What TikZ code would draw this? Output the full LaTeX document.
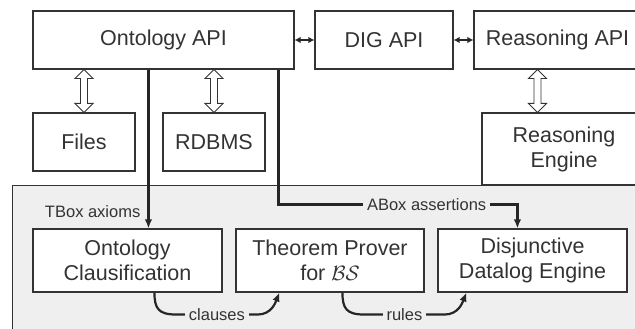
\documentclass[tikz,border=0pt]{standalone}
\usepackage{fontspec}
\setmainfont{Liberation Sans}
\usetikzlibrary{arrows.meta,calc}
\definecolor{ink}{HTML}{333333}
\definecolor{line}{HTML}{262626}
\definecolor{panel}{HTML}{EFEFEF}
\newcommand\hollowarrow[2]{\draw[hol] (#1) -- ++(-9,9) -- ++(5.5,0) -- ($(#2)+(-3.5,-9)$) -- ++(-5.5,0) -- (#2) -- ++(9,-9) -- ++(-5.5,0) -- ($(#1)+(3.5,9)$) -- ++(5.5,0) -- cycle;}
\begin{document}
\begin{tikzpicture}[x=1pt,y=-1pt,
 box/.style={draw=ink, line width=1.1pt, fill=white, text=ink, align=center, inner sep=0pt, font=\fontsize{21.5}{25}\selectfont},
 lab/.style={text=ink, font=\fontsize{16.5}{19}\selectfont, inner xsep=4pt, inner ysep=1pt},
 conn/.style={draw=line, line width=2.2pt},
 tip/.style={-{Latex[length=9pt,width=7.5pt]}},
 hol/.style={draw=ink, line width=0.9pt, fill=white, line join=miter},
 dbl/.style={draw=line, line width=2pt, {Latex[length=6pt,width=6.5pt]}-{Latex[length=6pt,width=6.5pt]}}
]
\useasboundingbox (0,0) rectangle (635,329);
\fill[panel, draw=ink, line width=0.9pt] (12,185) rectangle (660,350);

\node[box, minimum width=261, minimum height=58] (ont) at (163.5,40) {Ontology API};
\node[box, minimum width=138, minimum height=58] (dig) at (384,40) {DIG API};
\node[box, minimum width=167, minimum height=58] (rapi) at (557.5,40) {Reasoning API};
\node[box, minimum width=102, minimum height=58] (files) at (84,142) {Files};
\node[box, minimum width=102, minimum height=58] (rdb) at (214,142) {RDBMS};
\node[box, minimum width=164, minimum height=72] (reng) at (564,149) {Reasoning\\Engine};
\node[box, minimum width=189, minimum height=63] (oc) at (127.5,260.5) {Ontology\\Clausification};
\node[box, minimum width=188, minimum height=63] (tp) at (330,260.5) {Theorem Prover\\for $\mathcal{BS}$};
\node[box, minimum width=189, minimum height=63] (dd) at (532.5,260.5) {Disjunctive\\Datalog Engine};

\draw[dbl] (ont.east) -- (dig.west);
\draw[dbl] (dig.east) -- (rapi.west);

\coordinate (h1t) at (files.north |- ont.south);
\coordinate (h1b) at (files.north);
\coordinate (h2t) at (rdb.north |- ont.south);
\coordinate (h2b) at (rdb.north);
\coordinate (h3t) at ($(rapi.south west)+(64,0)$);
\coordinate (h3b) at (h3t |- reng.north);
\hollowarrow{h1t}{h1b}
\hollowarrow{h2t}{h2b}
\hollowarrow{h3t}{h3b}

\coordinate (t1) at ($(ont.south west)+(116,0)$);
\draw[conn, tip] (t1) -- (t1 |- oc.north) node[lab, pos=0.894, anchor=east, xshift=-3pt] {TBox axioms};

\coordinate (a1) at ($(ont.south west)+(246,0)$);
\coordinate (a2) at ($(dd.north west)+(80,0)$);
\draw[conn, tip] (a1) |- node[pos=0.81, lab, fill=panel] {ABox assertions} ($(a2)+(0,-24)$) -- (a2);

\coordinate (c1) at ($(oc.south west)+(122,0)$);
\coordinate (c2) at ($(tp.south west)+(44,0)$);
\draw[conn, tip] (c1) .. controls ($(c1)+(0,16)$) and ($(c1)+(4,22)$) .. ($(c1)+(22,22)$) -- node[lab, fill=panel] {clauses} ($(c2)+(-22,22)$) .. controls ($(c2)+(-8,22)$) and ($(c2)+(-4,10)$) .. (c2);

\coordinate (r1) at ($(tp.south west)+(107,0)$);
\coordinate (r2) at ($(dd.south west)+(29,0)$);
\draw[conn, tip] (r1) .. controls ($(r1)+(0,16)$) and ($(r1)+(4,22)$) .. ($(r1)+(22,22)$) -- node[lab, fill=panel] {rules} ($(r2)+(-22,22)$) .. controls ($(r2)+(-8,22)$) and ($(r2)+(-4,10)$) .. (r2);
\end{tikzpicture}
\end{document}
